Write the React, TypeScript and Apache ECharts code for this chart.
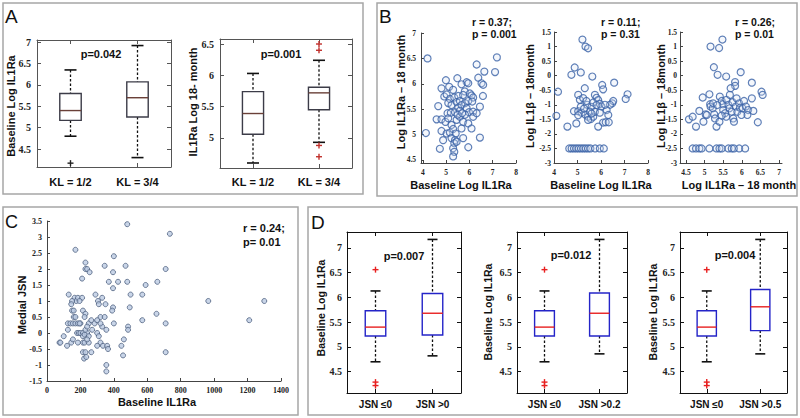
import { useEffect, useRef } from "react";
import * as echarts from "echarts";

const SERIF = "'Liberation Serif','DejaVu Serif',serif";
const SANS = "'Liberation Sans Narrow','Liberation Sans',Arial,sans-serif";
const SANS_REG = "'Liberation Sans',Arial,sans-serif";

// ---------- Panel A (box plots) ----------
const aCategories = ["KL = 1/2", "KL = 3/4"];
// [lower whisker, Q1, median, Q3, upper whisker]
const a1Boxes = [
  [4.8, 5.17, 5.4, 5.8, 6.35],
  [4.3, 5.25, 5.7, 6.07, 6.92],
];
const a1Outliers = [[1, 4.17]];
const a2Boxes = [
  [4.6, 5.06, 5.39, 5.74, 6.03],
  [4.93, 5.45, 5.72, 5.81, 6.24],
];
const a2Outliers = [[2, 6.5], [2, 6.4], [2, 4.88], [2, 4.7]];
const a1YTicks = [4.5, 5, 5.5, 6, 6.5, 7];
const a2YTicks = [5, 5.5, 6, 6.5];

// ---------- Panel B (scatter) ----------
const b1Points = [
  [4.2, 6.5], [4.13, 5.03], [7.18, 6.52], [7.1, 6.23], [6.31, 6.38], [6.64, 6.24], [6.38, 6.12], [6.52, 6.01],
  [6.59, 5.98], [6.58, 5.76], [4.99, 6.07], [5.48, 6.11], [5.88, 6.03], [4.8, 5.91], [5.13, 5.94], [5.3, 5.88],
  [5.66, 5.99], [5.8, 5.85], [5.95, 6.01], [4.92, 5.75], [5.02, 5.79], [5.16, 5.7], [5.35, 5.73], [5.52, 5.76],
  [5.73, 5.78], [6.02, 5.81], [6.09, 5.77], [6.16, 5.73], [5.09, 5.62], [5.23, 5.58], [5.45, 5.64], [5.59, 5.66],
  [5.81, 5.62], [5.95, 5.66], [6.12, 5.65], [4.66, 5.56], [5.06, 5.42], [5.2, 5.43], [5.38, 5.44], [5.52, 5.53],
  [5.66, 5.58], [5.88, 5.52], [5.98, 5.44], [6.16, 5.45], [4.59, 5.3], [4.8, 5.3], [4.97, 5.25], [5.23, 5.19],
  [5.45, 5.29], [5.59, 5.35], [5.73, 5.25], [5.81, 5.39], [5.95, 5.22], [6.16, 5.35], [6.45, 5.55], [6.31, 5.42],
  [4.8, 5.07], [5.02, 5.02], [5.16, 5.04], [5.3, 5.11], [5.41, 5.02], [5.66, 5.12], [6.09, 5.12], [4.87, 4.89],
  [5.23, 4.93], [5.38, 4.89], [5.35, 4.83], [5.73, 4.93], [6.45, 4.94], [4.73, 4.72], [5.3, 4.73], [5.35, 4.66],
  [5.95, 4.75], [5.3, 4.57], [5.45, 4.86], [5.59, 5.47], [5.49, 5.39], [5.69, 5.42], [5.09, 5.32],
];
const b2Points = [
  [5.21, 1.24], [5.34, 1.0], [5.45, 0.94], [4.17, -0.55], [4.1, -1.38], [4.57, -1.75], [4.88, 0.28], [4.74, 0.03],
  [5.14, 0.11], [5.63, -0.03], [5.31, -0.43], [6.05, -0.32], [6.09, -0.47], [6.56, -0.24], [7.13, -0.64], [7.05, -0.8],
  [5.03, -0.66], [5.1, -0.83], [5.24, -0.77], [5.41, -1.0], [5.6, -1.07], [5.74, -0.66], [5.81, -0.76], [5.88, -0.84],
  [5.95, -0.97], [6.02, -1.06], [6.48, -0.95], [6.52, -0.87], [6.38, -1.0], [6.24, -1.18], [6.31, -1.35], [6.09, -1.61],
  [6.2, -1.6], [6.33, -1.6], [5.88, -1.75], [4.95, -1.64], [4.85, -1.22], [5.03, -1.22], [5.17, -1.27], [5.34, -1.34],
  [5.45, -1.41], [5.53, -1.24], [5.57, -1.49], [5.67, -1.41], [5.74, -1.24], [5.14, -1.07], [5.28, -1.13], [5.38, -0.87],
  [5.67, -0.92], [5.81, -1.01], [5.03, -1.36], [5.45, -1.52], [5.95, -1.27], [5.6, -1.3], [6.17, -1.0],
  [4.65, -2.5], [4.75, -2.5], [4.85, -2.5], [4.95, -2.5], [5.05, -2.5], [5.15, -2.5], [5.25, -2.5], [5.35, -2.5],
  [5.45, -2.5], [5.55, -2.5], [5.75, -2.5], [5.95, -2.5], [6.12, -2.5],
];
const b3Points = [
  [5.16, 1.0], [5.39, 0.95], [5.48, 1.24], [5.25, 0.29], [5.35, 0.03], [5.58, -0.03], [5.97, 0.12], [5.82, -0.22],
  [5.82, -0.35], [6.27, -0.24], [6.53, -0.55], [6.56, -0.66], [6.43, -1.6], [4.58, -1.5], [4.68, -1.41], [4.77, -1.75],
  [4.86, -1.21], [4.95, -0.75], [4.97, -1.58], [5.03, -1.33], [5.06, -1.35], [5.13, -0.64], [5.15, -0.98], [5.16, -1.06],
  [5.22, -1.12], [5.23, -0.95], [5.26, -1.33], [5.28, -1.47], [5.32, -1.75], [5.4, -1.58], [5.41, -0.72], [5.46, -0.87],
  [5.49, -0.98], [5.5, -1.18], [5.55, -1.29], [5.58, -1.41], [5.59, -0.83], [5.64, -1.0], [5.67, -1.12], [5.68, -0.66],
  [5.7, -0.43], [5.73, -1.24], [5.75, -0.91], [5.77, -1.47], [5.79, -1.58], [5.84, -1.06], [5.86, -0.78], [5.88, -1.24],
  [5.93, -0.95], [5.95, -1.1], [6.02, -1.12], [6.06, -0.87], [6.11, -1.06], [6.17, -1.18], [6.27, -0.78], [6.31, -1.21],
  [6.15, -1.35], [5.99, -1.35], [5.46, -1.37], [5.34, -1.01],
  [4.68, -2.5], [4.77, -2.5], [4.86, -2.5], [4.92, -2.5], [5.13, -2.5], [5.32, -2.5], [5.4, -2.5], [5.46, -2.5],
  [5.64, -2.5], [5.73, -2.5], [5.79, -2.5], [5.93, -2.5], [6.09, -2.5],
];
const b12XTicks = [4, 5, 6, 7, 8];
const b3XTicks = [4.5, 5, 5.5, 6, 6.5, 7];
const b1YTicks = [4.5, 5, 5.5, 6, 6.5, 7];
const b23YTicks = [-3, -2.5, -2, -1.5, -1, -0.5, 0, 0.5, 1, 1.5];

// ---------- Panel C (scatter) ----------
const cPoints = [
  [480, 3.4], [735, 3.1], [170, 2.6], [230, 2.2], [230, 2.0], [240, 2.0], [255, 1.9], [210, 1.7], [345, 2.1], [400, 2.4],
  [395, 1.9], [470, 2.1], [370, 1.6], [425, 1.6], [480, 1.6], [395, 1.4], [590, 1.5], [660, 1.6], [710, 2.0], [500, 1.2],
  [570, 1.2], [965, 1.0], [1300, 1.0], [1210, 0.4], [130, 1.2], [165, 1.1], [175, 1.0], [185, 1.1], [210, 1.1], [150, 1.0],
  [195, 1.0], [145, 0.9], [290, 1.2], [305, 1.0], [310, 0.9], [330, 1.1], [350, 0.9], [395, 0.8], [390, 0.7], [495, 0.8],
  [150, 0.7], [160, 0.7], [215, 0.7], [230, 0.6], [225, 0.5], [160, 0.5], [170, 0.5], [320, 0.5], [345, 0.5], [125, 0.3],
  [140, 0.3], [155, 0.3], [170, 0.3], [185, 0.3], [200, 0.3], [250, 0.3], [265, 0.4], [285, 0.3], [300, 0.4], [570, 0.4],
  [655, 0.6], [710, 0.3], [485, 0.2], [485, 0.1], [400, 0.3], [125, 0.1], [100, -0.1], [75, -0.3], [80, -0.3], [120, -0.4],
  [145, -0.3], [180, 0.0], [190, 0.0], [200, 0.0], [215, 0.0], [240, 0.0], [215, -0.1], [225, -0.05], [230, 0.1], [250, -0.1],
  [215, -0.3], [225, -0.3], [250, -0.3], [215, -0.6], [222, -0.8], [230, -0.6], [235, -0.75], [265, -0.6], [300, 0.0], [310, -0.1],
  [320, -0.3], [335, -0.4], [300, -0.4], [355, -1.0], [355, -1.2], [360, -0.4], [365, -0.5], [445, -0.4], [455, -0.7], [460, -0.2],
  [710, -0.6], [240, 0.2], [270, 0.1], [330, 0.2], [355, 0.1], [195, 0.3], [155, -0.2], [185, -0.3], [240, -0.2], [320, 0.3],
];
const cXTicks = [0, 200, 400, 600, 800, 1000, 1200, 1400];
const cYTicks = [-1.5, -1, -0.5, 0, 0.5, 1, 1.5, 2, 2.5, 3, 3.5];

// ---------- Panel D (box plots) ----------
const d1Categories = ["JSN ≤0", "JSN >0"];
const d2Categories = ["JSN ≤0", "JSN >0.2"];
const d3Categories = ["JSN ≤0", "JSN >0.5"];
const dLowBox = [4.7, 5.22, 5.4, 5.73, 6.13];
const d1Boxes = [dLowBox, [4.82, 5.24, 5.68, 6.08, 7.17]];
const d2Boxes = [dLowBox, [4.86, 5.22, 5.68, 6.09, 7.17]];
const d3Boxes = [dLowBox, [4.86, 5.33, 5.81, 6.16, 7.17]];
const dOutliers = [[1, 6.56], [1, 4.29], [1, 4.22]];
const dYTicks = [4.5, 5, 5.5, 6, 6.5, 7];

function boxRenderer(st: any) {
  return (_params: any, api: any) => {
    const x = api.value(0);
    const p = (v: number) => api.coord([x, v]);
    const lo = p(api.value(1));
    const q1 = p(api.value(2));
    const md = p(api.value(3));
    const q3 = p(api.value(4));
    const hi = p(api.value(5));
    const hw = api.size([st.boxWidth, 0])[0] / 2;
    const cw = st.capHalf;
    const cx = md[0];
    const dash = { stroke: st.whisker, lineWidth: 1.3, lineDash: [2.5, 2] };
    return {
      type: "group",
      children: [
        { type: "line", shape: { x1: cx, y1: hi[1], x2: cx, y2: q3[1] }, style: dash },
        { type: "line", shape: { x1: cx, y1: q1[1], x2: cx, y2: lo[1] }, style: dash },
        { type: "line", shape: { x1: cx - cw, y1: hi[1], x2: cx + cw, y2: hi[1] }, style: { stroke: st.cap, lineWidth: 1.6 } },
        { type: "line", shape: { x1: cx - cw, y1: lo[1], x2: cx + cw, y2: lo[1] }, style: { stroke: st.cap, lineWidth: 1.6 } },
        {
          type: "rect",
          shape: { x: cx - hw, y: q3[1], width: 2 * hw, height: q1[1] - q3[1] },
          style: { fill: "none", stroke: st.box, lineWidth: 1.4 },
        },
        { type: "line", shape: { x1: cx - hw, y1: md[1], x2: cx + hw, y2: md[1] }, style: { stroke: st.median, lineWidth: 1.4 } },
      ],
    };
  };
}

function plusRenderer(color: string) {
  return (_params: any, api: any) => {
    const c = api.coord([api.value(0), api.value(1)]);
    const h = 3;
    return {
      type: "group",
      children: [
        { type: "line", shape: { x1: c[0] - h, y1: c[1], x2: c[0] + h, y2: c[1] }, style: { stroke: color, lineWidth: 1.4 } },
        { type: "line", shape: { x1: c[0], y1: c[1] - h, x2: c[0], y2: c[1] + h }, style: { stroke: color, lineWidth: 1.4 } },
      ],
    };
  };
}

const plain = (v: number) => String(v);

function buildOption() {
  const grids: any[] = [];
  const xAxes: any[] = [];
  const yAxes: any[] = [];
  const series: any[] = [];

  const lineAxis = (color: string) => ({ show: true, onZero: false, lineStyle: { color, width: 1 } });

  function addBoxPanel(p: any) {
    const gi = grids.length;
    grids.push({ left: p.left, top: p.top, width: p.width, height: p.height, outerBoundsMode: "none" });
    const xi = xAxes.length;
    const tickX = { show: true, inside: true, length: 4, customValues: [1, 2], lineStyle: { color: p.frame } };
    xAxes.push({
      gridIndex: gi, type: "value", min: 0.5, max: 2.5, position: "bottom",
      axisLine: lineAxis(p.frame), axisTick: tickX, splitLine: { show: false },
      axisLabel: {
        customValues: [1, 2], formatter: (v: number) => p.cats[Math.round(v) - 1] ?? "",
        margin: p.xLabelMargin, fontFamily: SANS, fontWeight: "bold", fontSize: p.xLabelSize, color: "#111",
      },
    });
    xAxes.push({
      gridIndex: gi, type: "value", min: 0.5, max: 2.5, position: "top",
      axisLine: lineAxis(p.frame), axisTick: tickX, splitLine: { show: false }, axisLabel: { show: false },
    });
    const yi = yAxes.length;
    const tickY = { show: true, inside: true, length: 4, customValues: p.yTicks, lineStyle: { color: p.frame } };
    yAxes.push({
      gridIndex: gi, type: "value", min: p.yMin, max: p.yMax, position: "left",
      axisLine: lineAxis(p.frame), axisTick: tickY, splitLine: { show: false },
      axisLabel: {
        customValues: p.yTicks, formatter: plain, margin: p.yLabelMargin, fontFamily: SERIF, fontWeight: "bold",
        fontSize: p.yLabelSize, color: "#222",
      },
    });
    yAxes.push({
      gridIndex: gi, type: "value", min: p.yMin, max: p.yMax, position: "right",
      axisLine: lineAxis(p.frame), axisTick: tickY, splitLine: { show: false }, axisLabel: { show: false },
    });
    series.push({
      type: "custom", xAxisIndex: xi, yAxisIndex: yi, silent: true,
      data: p.boxes.map((b: number[], i: number) => [i + 1, ...b]),
      encode: { x: 0, y: [1, 2, 3, 4, 5] },
      renderItem: boxRenderer(p.style),
    });
    series.push({
      type: "custom", xAxisIndex: xi, yAxisIndex: yi, silent: true,
      data: p.outliers, encode: { x: 0, y: 1 },
      renderItem: plusRenderer(p.style.outlier),
    });
  }

  function addScatterPanel(p: any) {
    const gi = grids.length;
    grids.push({ left: p.left, top: p.top, width: p.width, height: p.height, outerBoundsMode: "none" });
    const xi = xAxes.length;
    const yi = yAxes.length;
    xAxes.push({
      gridIndex: gi, type: "value", min: p.xMin, max: p.xMax, position: "bottom",
      axisLine: lineAxis("#444"),
      axisTick: { show: true, inside: true, length: 3, customValues: p.xTicks, lineStyle: { color: "#444" } },
      splitLine: { show: false },
      axisLabel: { customValues: p.xTicks, formatter: plain, margin: 5, fontFamily: SERIF, fontWeight: "bold", fontSize: p.labelSize, color: "#222" },
    });
    yAxes.push({
      gridIndex: gi, type: "value", min: p.yMin, max: p.yMax, position: "left",
      axisLine: lineAxis("#444"),
      axisTick: { show: true, inside: true, length: 3, customValues: p.yTicks, lineStyle: { color: "#444" } },
      splitLine: { show: false },
      axisLabel: { customValues: p.yTicks, formatter: plain, margin: p.yLabelMargin, fontFamily: SERIF, fontWeight: "bold", fontSize: p.labelSize, color: "#222" },
    });
    series.push({
      type: "scatter", xAxisIndex: xi, yAxisIndex: yi, silent: true,
      data: p.points, symbol: "circle", symbolSize: p.size,
      itemStyle: p.itemStyle,
    });
  }

  const aStyle = { boxWidth: 0.32, capHalf: 6, whisker: "#111", cap: "#111", box: "#3c3c48", median: "#6a4038", outlier: "#222" };
  const a2Style = { ...aStyle, outlier: "#c0302c" };
  const dStyle = { boxWidth: 0.36, capHalf: 5, whisker: "#111", cap: "#111", box: "#2424c8", median: "#e82020", outlier: "#e82020" };

  addBoxPanel({ left: 37, top: 40, width: 134, height: 127, yMin: 4.08, yMax: 7.05, yTicks: a1YTicks, cats: aCategories,
    boxes: a1Boxes, outliers: a1Outliers, style: aStyle, frame: "#555", xLabelMargin: 9, xLabelSize: 11, yLabelMargin: 6, yLabelSize: 10 });
  addBoxPanel({ left: 220, top: 39, width: 132, height: 129, yMin: 4.52, yMax: 6.58, yTicks: a2YTicks, cats: aCategories,
    boxes: a2Boxes, outliers: a2Outliers, style: a2Style, frame: "#555", xLabelMargin: 8, xLabelSize: 11, yLabelMargin: 6, yLabelSize: 10 });

  const bItem = { color: "rgba(215,228,246,0.35)", borderColor: "#3a62a6", borderWidth: 1.2 };
  addScatterPanel({ left: 421, top: 33, width: 95, height: 130, xMin: 3.92, xMax: 8, yMin: 4.44, yMax: 7,
    xTicks: b12XTicks, yTicks: b1YTicks, points: b1Points, size: 7, itemStyle: bItem, labelSize: 7.5, yLabelMargin: 5 });
  addScatterPanel({ left: 554, top: 32, width: 94, height: 131, xMin: 4, xMax: 8, yMin: -3, yMax: 1.5,
    xTicks: b12XTicks, yTicks: b23YTicks, points: b2Points, size: 7, itemStyle: bItem, labelSize: 7.5, yLabelMargin: 3 });
  addScatterPanel({ left: 680, top: 32, width: 102, height: 131, xMin: 4.34, xMax: 7.08, yMin: -3, yMax: 1.5,
    xTicks: b3XTicks, yTicks: b23YTicks, points: b3Points, size: 7, itemStyle: bItem, labelSize: 7.5, yLabelMargin: 3 });

  addScatterPanel({ left: 47, top: 221, width: 234, height: 160, xMin: 0, xMax: 1400, yMin: -1.5, yMax: 3.5,
    xTicks: cXTicks, yTicks: cYTicks, points: cPoints, size: 5,
    itemStyle: { color: "#bccbe2", borderColor: "#4d6080", borderWidth: 1 }, labelSize: 8, yLabelMargin: 5 });

  addBoxPanel({ left: 347, top: 232, width: 114, height: 161, yMin: 4.07, yMax: 7.32, yTicks: dYTicks, cats: d1Categories,
    boxes: d1Boxes, outliers: dOutliers, style: dStyle, frame: "#111", xLabelMargin: 6, xLabelSize: 10, yLabelMargin: 5, yLabelSize: 10 });
  addBoxPanel({ left: 517, top: 232, width: 110, height: 161, yMin: 4.07, yMax: 7.32, yTicks: dYTicks, cats: d2Categories,
    boxes: d2Boxes, outliers: dOutliers, style: dStyle, frame: "#111", xLabelMargin: 6, xLabelSize: 10, yLabelMargin: 5, yLabelSize: 10 });
  addBoxPanel({ left: 680, top: 232, width: 107, height: 161, yMin: 4.07, yMax: 7.32, yTicks: dYTicks, cats: d3Categories,
    boxes: d3Boxes, outliers: dOutliers, style: dStyle, frame: "#111", xLabelMargin: 6, xLabelSize: 10, yLabelMargin: 5, yLabelSize: 10 });

  const txt = (text: string, x: number, y: number, o: any = {}) => ({
    type: "text", x, y, rotation: o.rot ?? 0, silent: true,
    style: {
      text, fill: o.color ?? "#111",
      font: `${o.weight ?? "bold"} ${o.size ?? 11}px ${o.family ?? SANS}`,
      textAlign: o.align ?? "center", textVerticalAlign: "middle",
      align: o.align ?? "center", verticalAlign: "middle",
    },
  });
  const frame = (x: number, y: number, w: number, h: number) => ({
    type: "rect", silent: true, shape: { x, y, width: w, height: h },
    style: { fill: "none", stroke: "#a6a6a6", lineWidth: 1.5 },
  });
  const R = Math.PI / 2;

  const elements = [
    frame(3, 3, 360, 191),
    frame(377, 3, 420, 193),
    frame(3, 207, 295, 208),
    frame(308, 207, 489, 208),
    txt("A", 5, 16, { align: "left", weight: "normal", size: 19, family: SANS_REG }),
    txt("B", 379, 16, { align: "left", weight: "normal", size: 19, family: SANS_REG }),
    txt("C", 5, 222, { align: "left", weight: "normal", size: 18, family: SANS_REG }),
    txt("D", 311, 222, { align: "left", weight: "normal", size: 19, family: SANS_REG }),
    // A
    txt("Baseline Log IL1Ra", 11, 106, { rot: R }),
    txt("IL1Ra Log 18- month", 193, 102, { rot: R }),
    txt("p=0.042", 101, 54),
    txt("p=0.001", 281, 54),
    // B
    txt("Log IL1Ra – 18 month", 401, 92, { rot: R }),
    txt("Log IL1β – 18month", 530, 96, { rot: R }),
    txt("Log IL1β – 18month", 661, 96, { rot: R }),
    txt("Baseline Log IL1Ra", 461, 185),
    txt("Baseline Log IL1Ra", 601, 185),
    txt("Log IL1Ra – 18 month", 739, 185),
    txt("r = 0.37;", 472, 22, { align: "left", size: 10.5 }),
    txt("p = 0.001", 472, 34, { align: "left", size: 10.5 }),
    txt("r = 0.11;", 601, 22, { align: "left", size: 10.5 }),
    txt("p = 0.31", 601, 34, { align: "left", size: 10.5 }),
    txt("r = 0.26;", 735, 22, { align: "left", size: 10.5 }),
    txt("p = 0.01", 735, 34, { align: "left", size: 10.5 }),
    // C
    txt("Medial JSN", 22, 305, { rot: R }),
    txt("Baseline IL1Ra", 157, 402),
    txt("r = 0.24;", 243, 228, { align: "left" }),
    txt("p= 0.01", 243, 242, { align: "left" }),
    // D
    txt("Baseline Log IL1Ra", 321, 308, { rot: R, size: 10.5 }),
    txt("Baseline Log IL1Ra", 488, 312, { rot: R, size: 10.5 }),
    txt("Baseline Log IL1Ra", 653, 312, { rot: R, size: 10.5 }),
    txt("p=0.007", 404, 256),
    txt("p=0.012", 571, 255),
    txt("p=0.004", 735, 255),
  ];

  return {
    animation: false,
    backgroundColor: "#ffffff",
    grid: grids,
    xAxis: xAxes,
    yAxis: yAxes,
    series,
    graphic: { elements },
  };
}

export default function App() {
  const ref = useRef<HTMLDivElement>(null);
  useEffect(() => {
    if (!ref.current) return;
    const chart = echarts.init(ref.current, null, { renderer: "svg" });
    chart.setOption(buildOption() as any);
    return () => chart.dispose();
  }, []);
  return (
    <div
      ref={ref}
      style={{ position: "absolute", left: 0, top: 0, width: 800, height: 418, background: "#fff" }}
    />
  );
}
